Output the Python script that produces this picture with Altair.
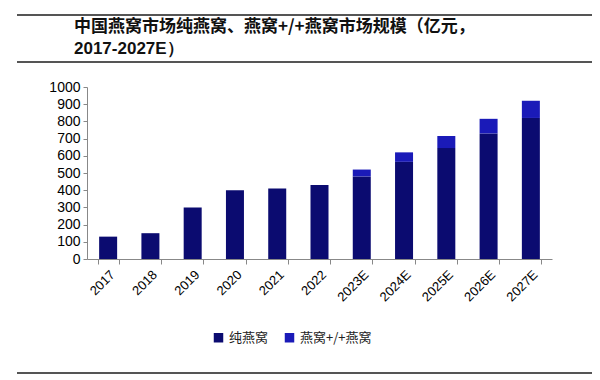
import altair as alt
import pandas as pd

years = ["2017", "2018", "2019", "2020", "2021", "2022", "2023E", "2024E", "2025E", "2026E", "2027E"]
totals = [130, 150, 300, 400, 410, 430, 520, 620, 715, 815, 920]
plus_vals = [0, 0, 0, 0, 0, 0, 40, 55, 70, 85, 100]
series = ["纯燕窝", "燕窝+/+燕窝"]
colors = ["#0b0b70", "#1a1ab8"]
title_lines = ["中国燕窝市场纯燕窝、燕窝+/+燕窝市场规模（亿元，", "2017-2027E）"]

rows = []
for y, t, p in zip(years, totals, plus_vals):
    rows.append({"year": y, "series": series[0], "value": t - p, "ord": 0})
    rows.append({"year": y, "series": series[1], "value": p, "ord": 1})
df = pd.DataFrame(rows)

W, H = 465, 172

bars = alt.Chart(df).mark_bar(size=18).encode(
    x=alt.X("year:N", sort=years, title=None,
            scale=alt.Scale(paddingInner=0.5, paddingOuter=0.25),
            axis=alt.Axis(labelAngle=-45, labelFont="Liberation Sans", labelFontSize=13,
                          labelColor="#000", domainColor="#888", tickColor="#888",
                          tickBand="extent", tickSize=5, labelPadding=4)),
    y=alt.Y("value:Q", stack="zero", title=None,
            scale=alt.Scale(domain=[0, 1000]),
            axis=alt.Axis(values=list(range(0, 1001, 100)), format="d",
                          labelFont="Liberation Sans",
                          labelFontSize=14, labelColor="#000", domainColor="#888",
                          tickColor="#888", tickSize=4, grid=False, labelPadding=3)),
    color=alt.Color("series:N", sort=series,
                    scale=alt.Scale(domain=series, range=colors),
                    legend=alt.Legend(title=None, orient="none", legendX=125, legendY=244,
                                      direction="horizontal", symbolType="square",
                                      symbolSize=90, symbolStrokeWidth=0,
                                      labelFont="Noto Sans CJK SC", labelFontSize=13,
                                      labelColor="#222", columnPadding=14)),
    order=alt.Order("ord:Q"),
)

title1 = alt.Chart(pd.DataFrame({"t": [title_lines[0]]})).mark_text(
    align="left", baseline="middle", font="Noto Sans CJK SC",
    fontSize=17, fontWeight="bold", color="#111").encode(
    x=alt.value(-13), y=alt.value(-60), text="t:N")
title2 = alt.Chart(pd.DataFrame({"t": [title_lines[1]]})).mark_text(
    align="left", baseline="middle", font="Liberation Sans",
    fontSize=17, fontWeight="bold", color="#111").encode(
    x=alt.value(-13), y=alt.value(-38), text="t:N")

def hrule(yv):
    return alt.Chart(pd.DataFrame({"k": [0]})).mark_rule(color="#555", strokeWidth=2).encode(
        x=alt.value(-70), x2=alt.value(505), y=alt.value(yv))

chart = alt.layer(bars, title1, title2, hrule(-72), hrule(-25), hrule(286)).properties(
    width=W, height=H, autosize=alt.AutoSizeParams(type="none"),
    padding={"left": 79, "top": 79, "right": 40, "bottom": 120},
    background="white"
).configure_view(stroke=None)

chart.save("out.html", embed_options={"renderer": "svg", "actions": False})
